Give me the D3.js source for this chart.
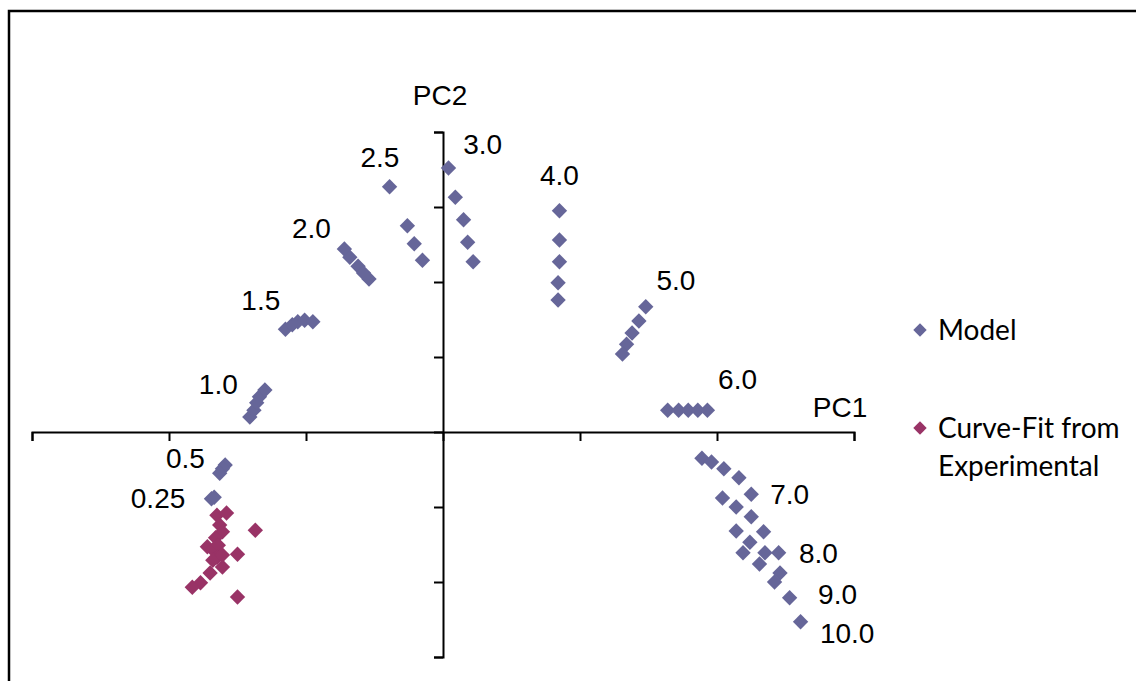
<!DOCTYPE html>
<html>
<head>
<meta charset="utf-8">
<script src="https://cdn.jsdelivr.net/npm/d3@7"></script>
<style>
  body { margin: 0; background: #fff; }
  svg { display: block; }
</style>
</head>
<body>
<script>
// model scores (PC1, PC2)
const modelPC1 = [
  -1.41, -1.38, -1.36, -1.34, -1.30,
  -1.15, -1.10, -1.06, -1.01, -0.95,
  -0.72, -0.68, -0.62, -0.58, -0.54,
  -0.39, -0.26, -0.21, -0.15,
  0.04, 0.09, 0.15, 0.18, 0.22,
  0.85, 0.85, 0.85, 0.84, 0.84,
  1.48, 1.43, 1.38, 1.34, 1.31,
  1.64, 1.72, 1.79, 1.86, 1.93,
  1.89, 1.96, 2.05, 2.16, 2.25,
  2.04, 2.14, 2.25, 2.34,
  2.14, 2.24, 2.35, 2.45,
  2.19, 2.31, 2.46, 2.42,
  2.53, 2.61,
  -1.59, -1.61, -1.63,
  -1.69, -1.67,
];
const modelPC2 = [
  0.20, 0.29, 0.39, 0.47, 0.56,
  1.37, 1.43, 1.47, 1.49, 1.47,
  2.44, 2.33, 2.21, 2.12, 2.04,
  3.27, 2.75, 2.51, 2.29,
  3.52, 3.13, 2.83, 2.53, 2.27,
  2.95, 2.56, 2.27, 1.99, 1.76,
  1.67, 1.48, 1.32, 1.17, 1.04,
  0.29, 0.29, 0.29, 0.29, 0.29,
  -0.35, -0.40, -0.49, -0.61, -0.83,
  -0.88, -1.00, -1.13, -1.33,
  -1.32, -1.47, -1.61, -1.61,
  -1.61, -1.76, -1.88, -2.00,
  -2.21, -2.53,
  -0.44, -0.49, -0.55,
  -0.89, -0.87,
];

// curve-fit from experimental (PC1, PC2)
const expPC1 = [-1.65, -1.58, -1.63, -1.61, -1.66, -1.72, -1.68, -1.64, -1.65,
  -1.61, -1.70, -1.77, -1.83, -1.37, -1.50, -1.50, -1.68, -1.61];
const expPC2 = [-1.11, -1.08, -1.24, -1.33, -1.41, -1.53, -1.57, -1.51, -1.67,
  -1.80, -1.88, -2.01, -2.07, -1.31, -1.63, -2.20, -1.71, -1.64];

// time labels placed next to each group
const labelText = ['0.25', '0.5', '1.0', '1.5', '2.0', '2.5', '3.0', '4.0', '5.0', '6.0', '7.0', '8.0', '9.0', '10.0'];
const labelPC1 = [-2.08, -1.88, -1.64, -1.33, -0.96, -0.46, 0.29, 0.85, 1.70, 2.15, 2.53, 2.74, 2.88, 2.95];
const labelPC2 = [-1.01, -0.48, 0.51, 1.63, 2.59, 3.53, 3.71, 3.29, 1.89, 0.57, -0.96, -1.75, -2.29, -2.81];

const seriesNames = ['Model', 'Curve-Fit from|Experimental'];
const seriesColors = ['#666699', '#993366'];

const W = 1136, H = 681;
const svg = d3.select('body').append('svg').attr('width', W).attr('height', H);

// outer frame
svg.append('rect')
  .attr('x', 9).attr('y', 11)
  .attr('width', 1200).attr('height', 700)
  .attr('fill', 'none').attr('stroke', '#000').attr('stroke-width', 2.5);

const x = d3.scaleLinear().domain([-3, 3]).range([32, 854]);
const y = d3.scaleLinear().domain([-3, 4]).range([657, 132]);

// axes crossing at origin
svg.append('g')
  .attr('transform', `translate(0,${y(0)})`)
  .call(d3.axisBottom(x).ticks(6).tickSize(9).tickSizeOuter(9).tickFormat(''))
  .call(g => g.selectAll('path, line').attr('stroke', '#000').attr('stroke-width', 2));

svg.append('g')
  .attr('transform', `translate(${x(0)},0)`)
  .call(d3.axisLeft(y).ticks(7).tickSize(9).tickSizeOuter(9).tickFormat(''))
  .call(g => g.selectAll('path, line').attr('stroke', '#000').attr('stroke-width', 2));

svg.selectAll('.tick text').remove();

const diamond = d3.symbol().type(d3.symbolSquare).size(118)();

const modelPts = modelPC1.map((v, i) => ({ pc1: v, pc2: modelPC2[i] }));
const expPts = expPC1.map((v, i) => ({ pc1: v, pc2: expPC2[i] }));

svg.append('g').selectAll('path')
  .data(modelPts)
  .enter().append('path')
  .attr('d', diamond)
  .attr('transform', d => `translate(${x(d.pc1)},${y(d.pc2)}) rotate(45)`)
  .attr('fill', seriesColors[0]);

svg.append('g').selectAll('path')
  .data(expPts)
  .enter().append('path')
  .attr('d', diamond)
  .attr('transform', d => `translate(${x(d.pc1)},${y(d.pc2)}) rotate(45)`)
  .attr('fill', seriesColors[1]);

// group labels
svg.append('g').selectAll('text')
  .data(labelText)
  .enter().append('text')
  .attr('x', (d, i) => x(labelPC1[i]))
  .attr('y', (d, i) => y(labelPC2[i]))
  .attr('text-anchor', 'middle')
  .style('font-family', '"Liberation Sans", Arial, sans-serif')
  .style('font-size', '28px')
  .text(d => d);

// axis titles
svg.append('text')
  .attr('x', x(0) - 3).attr('y', 105)
  .attr('text-anchor', 'middle')
  .style('font-family', '"Liberation Sans", Arial, sans-serif')
  .style('font-size', '28px')
  .text('PC2');

svg.append('text')
  .attr('x', 840).attr('y', 417)
  .attr('text-anchor', 'middle')
  .style('font-family', '"Liberation Sans", Arial, sans-serif')
  .style('font-size', '28px')
  .text('PC1');

// legend
const legend = svg.append('g')
  .selectAll('g')
  .data(seriesNames)
  .enter().append('g')
  .attr('transform', (d, i) => `translate(920,${330 + i * 98})`);

legend.append('path')
  .attr('d', d3.symbol().type(d3.symbolSquare).size(90)())
  .attr('transform', 'rotate(45)')
  .attr('fill', (d, i) => seriesColors[i]);

legend.append('text')
  .style('font-family', 'Lato, "Open Sans", sans-serif')
  .style('font-size', '28px')
  .selectAll('tspan')
  .data(d => d.split('|'))
  .enter().append('tspan')
  .attr('x', 18)
  .attr('y', (d, i) => 10 + i * 38)
  .text(d => d);
</script>
</body>
</html>
